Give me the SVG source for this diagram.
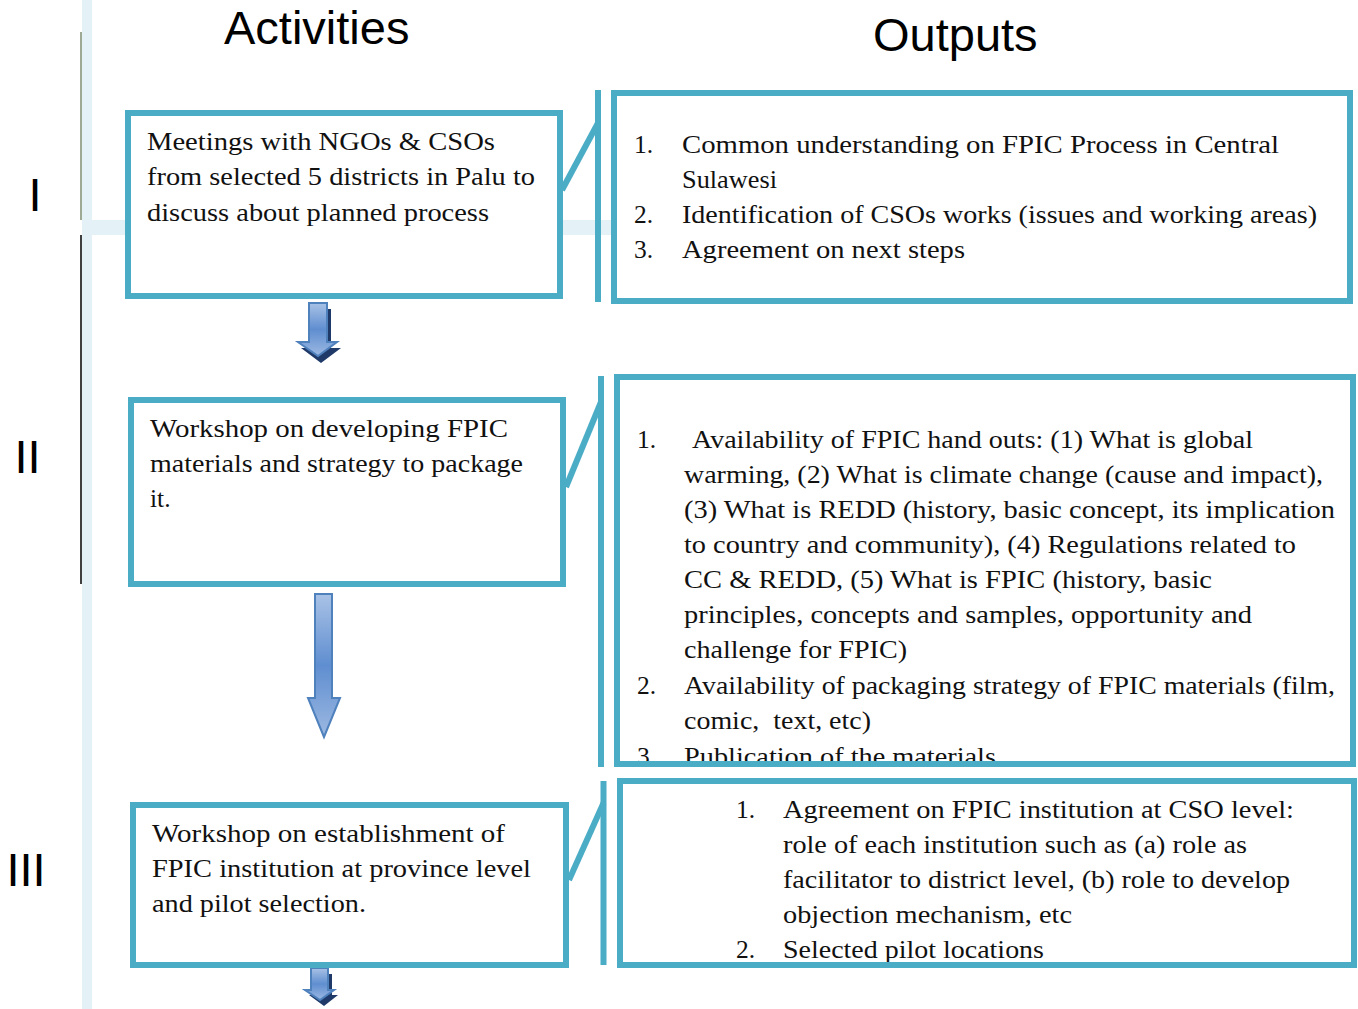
<svg xmlns="http://www.w3.org/2000/svg" width="1358" height="1009" viewBox="0 0 1358 1009">
<defs>
<style>
.box{fill:none;stroke:#4BACC6;stroke-width:6}
.bg{fill:#ffffff;stroke:none}
.conn{stroke:#4BACC6;stroke-width:6;fill:none}
.t{font-family:"Liberation Serif","Times New Roman",serif;font-size:25.5px;fill:#111}
.h{font-family:"Liberation Sans",Arial,sans-serif;font-size:47px;fill:#000}
.arr{fill:url(#ag);stroke:#4F81BD;stroke-width:2}
.sh{fill:#1F3A68}
</style>
<linearGradient id="ag" x1="0" y1="0" x2="0" y2="1">
<stop offset="0" stop-color="#A9C2E6"/>
<stop offset="0.5" stop-color="#5F8ED0"/>
<stop offset="1" stop-color="#9DB9E2"/>
</linearGradient>
</defs>
<rect width="1358" height="1009" fill="#ffffff"/>
<g id="background">
<rect x="82" y="0" width="10" height="1009" fill="#E4F2F8"/>
<rect x="82" y="220" width="532" height="15" fill="#E4F2F8"/>
<line x1="81" y1="32" x2="81" y2="220" stroke="#7E8C72" stroke-width="1.5"/>
<line x1="81" y1="235" x2="81" y2="584" stroke="#000" stroke-width="1.5"/>
<text class="h" x="224" y="44">Activities</text>
<text class="h" x="873" y="51">Outputs</text>
<text class="h" x="28.5" y="211">I</text>
<text class="h" x="14.5" y="473">II</text>
<text class="h" x="6.5" y="886">III</text>
</g>
<g id="connectors">
<line class="conn" x1="598" y1="90" x2="598" y2="302"/>
<line class="conn" x1="562" y1="190" x2="598" y2="123"/>
<line class="conn" x1="601" y1="376" x2="601" y2="767"/>
<line class="conn" x1="566" y1="487" x2="601" y2="402"/>
<line class="conn" x1="603.5" y1="781" x2="603.5" y2="965"/>
<line class="conn" x1="569" y1="880" x2="603.5" y2="803"/>
<polygon class="sh" points="313,309 331,309 331,348 341,348 321,363 301,348 313,348"/>
<polygon class="arr" points="309,303 327,303 327,342 337,342 318,356 298,342 309,342"/>
<polygon class="arr" points="315,594 332,594 332,698 340,698 324,737 308,698 315,698"/>
<polygon class="sh" points="315,974 332,974 332,995 338,995 324,1006 309,995 315,995"/>
<polygon class="arr" points="311,968 328,968 328,990 334,990 320,1000 305,990 311,990"/>
</g>
<g id="act1">
<rect class="bg" x="128" y="113" width="432" height="183"/>
<text class="t"><tspan x="147" y="150" textLength="348" lengthAdjust="spacingAndGlyphs">Meetings with NGOs &amp; CSOs</tspan><tspan x="147" y="185" textLength="388" lengthAdjust="spacingAndGlyphs">from selected 5 districts in Palu to</tspan><tspan x="147" y="221" textLength="342" lengthAdjust="spacingAndGlyphs">discuss about planned process</tspan></text>
<rect class="box" x="128" y="113" width="432" height="183"/>
</g>
<g id="act2">
<rect class="bg" x="131" y="400" width="432" height="184"/>
<text class="t"><tspan x="150" y="437" textLength="358" lengthAdjust="spacingAndGlyphs">Workshop on developing FPIC</tspan><tspan x="150" y="472" textLength="373" lengthAdjust="spacingAndGlyphs">materials and strategy to package</tspan><tspan x="150" y="507">it.</tspan></text>
<rect class="box" x="131" y="400" width="432" height="184"/>
</g>
<g id="act3">
<rect class="bg" x="133" y="805" width="433" height="160"/>
<text class="t"><tspan x="152" y="842" textLength="353" lengthAdjust="spacingAndGlyphs">Workshop on establishment of</tspan><tspan x="152" y="877" textLength="379" lengthAdjust="spacingAndGlyphs">FPIC institution at province level</tspan><tspan x="152" y="912" textLength="214" lengthAdjust="spacingAndGlyphs">and pilot selection.</tspan></text>
<rect class="box" x="133" y="805" width="433" height="160"/>
</g>
<g id="out1">
<rect class="bg" x="614" y="93" width="736" height="208"/>
<text class="t"><tspan x="634" y="153">1.</tspan><tspan x="682" y="153" textLength="597" lengthAdjust="spacingAndGlyphs">Common understanding on FPIC Process in Central</tspan><tspan x="682" y="188" textLength="95" lengthAdjust="spacingAndGlyphs">Sulawesi</tspan><tspan x="634" y="223">2.</tspan><tspan x="682" y="223" textLength="635" lengthAdjust="spacingAndGlyphs">Identification of CSOs works (issues and working areas)</tspan><tspan x="634" y="258">3.</tspan><tspan x="682" y="258" textLength="283" lengthAdjust="spacingAndGlyphs">Agreement on next steps</tspan></text>
<rect class="box" x="614" y="93" width="736" height="208"/>
</g>
<g id="out2">
<rect class="bg" x="617" y="377" width="736" height="387"/>
<text class="t"><tspan x="637" y="448">1.</tspan><tspan x="692" y="448" textLength="561" lengthAdjust="spacingAndGlyphs">Availability of FPIC hand outs: (1) What is global</tspan><tspan x="684" y="483" textLength="639" lengthAdjust="spacingAndGlyphs">warming, (2) What is climate change (cause and impact),</tspan><tspan x="684" y="518" textLength="651" lengthAdjust="spacingAndGlyphs">(3) What is REDD (history, basic concept, its implication</tspan><tspan x="684" y="553" textLength="612" lengthAdjust="spacingAndGlyphs">to country and community), (4) Regulations related to</tspan><tspan x="684" y="588" textLength="528" lengthAdjust="spacingAndGlyphs">CC &amp; REDD, (5) What is FPIC (history, basic</tspan><tspan x="684" y="623" textLength="568" lengthAdjust="spacingAndGlyphs">principles, concepts and samples, opportunity and</tspan><tspan x="684" y="658" textLength="223" lengthAdjust="spacingAndGlyphs">challenge for FPIC)</tspan><tspan x="637" y="694">2.</tspan><tspan x="684" y="694" textLength="651" lengthAdjust="spacingAndGlyphs">Availability of packaging strategy of FPIC materials (film,</tspan><tspan x="684" y="729" textLength="187" lengthAdjust="spacingAndGlyphs" xml:space="preserve">comic,  text, etc)</tspan><tspan x="637" y="765">3.</tspan><tspan x="684" y="765" textLength="312" lengthAdjust="spacingAndGlyphs">Publication of the materials</tspan></text>
<rect class="box" x="617" y="377" width="736" height="387"/>
</g>
<g id="out3">
<rect class="bg" x="620" y="781" width="734" height="184"/>
<text class="t"><tspan x="736" y="818">1.</tspan><tspan x="783" y="818" textLength="511" lengthAdjust="spacingAndGlyphs">Agreement on FPIC institution at CSO level:</tspan><tspan x="783" y="853" textLength="464" lengthAdjust="spacingAndGlyphs">role of each institution such as (a) role as</tspan><tspan x="783" y="888" textLength="507" lengthAdjust="spacingAndGlyphs">facilitator to district level, (b) role to develop</tspan><tspan x="783" y="923" textLength="289" lengthAdjust="spacingAndGlyphs">objection mechanism, etc</tspan><tspan x="736" y="958">2.</tspan><tspan x="783" y="958" textLength="261" lengthAdjust="spacingAndGlyphs">Selected pilot locations</tspan></text>
<rect class="box" x="620" y="781" width="734" height="184"/>
</g>
</svg>
